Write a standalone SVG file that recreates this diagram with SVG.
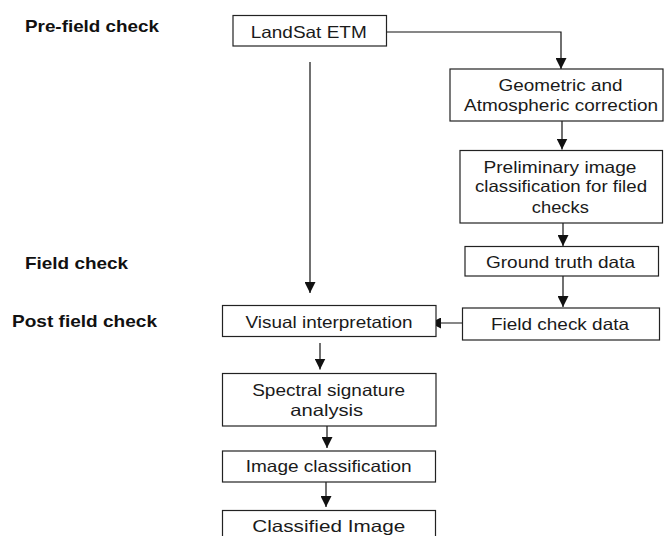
<svg xmlns="http://www.w3.org/2000/svg" width="665" height="536" viewBox="0 0 665 536">
<defs>
<style>
.box{fill:#fff;stroke:#222;stroke-width:1.2}
.t{font-family:"Liberation Sans",Arial,sans-serif;font-size:16.5px;fill:#1a1a1a;text-anchor:middle}
.lb{font-family:"Liberation Sans",Arial,sans-serif;font-size:16.5px;font-weight:bold;fill:#111}
.c{fill:none;stroke:#111;stroke-width:1.2}
</style>
<marker id="ah" markerUnits="userSpaceOnUse" markerWidth="11" markerHeight="11" refX="10" refY="5" orient="auto" viewBox="0 0 10 10">
<path d="M0,0 L10,5 L0,10 z" fill="#111"/>
</marker>
</defs>
<rect width="665" height="536" fill="#fff"/>
<g id="labels">
<text class="lb" x="25" y="32" textLength="134" lengthAdjust="spacingAndGlyphs">Pre-field check</text>
<text class="lb" x="25" y="269" textLength="103" lengthAdjust="spacingAndGlyphs">Field check</text>
<text class="lb" x="12" y="326.7" textLength="145" lengthAdjust="spacingAndGlyphs">Post field check</text>
</g>
<g id="connectors">
<path class="c" d="M386.7,32 H561 V69" marker-end="url(#ah)"/>
<path class="c" d="M310,62 V293" marker-end="url(#ah)"/>
<path class="c" d="M562,121 V149.5" marker-end="url(#ah)"/>
<path class="c" d="M563,223 V246" marker-end="url(#ah)"/>
<path class="c" d="M563,276 V307" marker-end="url(#ah)"/>
<path class="c" d="M462.5,323 H430" marker-end="url(#ah)"/>
<path class="c" d="M320,343 V369.5" marker-end="url(#ah)"/>
<path class="c" d="M327,426 V448" marker-end="url(#ah)"/>
<path class="c" d="M326,482 V507" marker-end="url(#ah)"/>
</g>
<g id="landsat">
<rect class="box" x="233" y="15.5" width="153.5" height="30.5"/>
<text class="t" x="308.7" y="37.7" textLength="116" lengthAdjust="spacingAndGlyphs">LandSat ETM</text>
</g>
<g id="geometric">
<rect class="box" x="450" y="69" width="213" height="52"/>
<text class="t" x="560.5" y="90.7" textLength="124" lengthAdjust="spacingAndGlyphs">Geometric and</text>
<text class="t" x="561" y="111" textLength="194" lengthAdjust="spacingAndGlyphs">Atmospheric correction</text>
</g>
<g id="preliminary">
<rect class="box" x="460" y="150.5" width="202.5" height="72.5"/>
<text class="t" x="560" y="172.7" textLength="153" lengthAdjust="spacingAndGlyphs">Preliminary image</text>
<text class="t" x="561" y="191.7" textLength="172" lengthAdjust="spacingAndGlyphs">classification for filed</text>
<text class="t" x="560.3" y="212.7" textLength="57" lengthAdjust="spacingAndGlyphs">checks</text>
</g>
<g id="ground">
<rect class="box" x="465" y="246.5" width="193.5" height="29.5"/>
<text class="t" x="560.5" y="268.3" textLength="149" lengthAdjust="spacingAndGlyphs">Ground truth data</text>
</g>
<g id="fieldcheck">
<rect class="box" x="462.5" y="308" width="197" height="32"/>
<text class="t" x="560" y="330" textLength="138" lengthAdjust="spacingAndGlyphs">Field check data</text>
</g>
<g id="visual">
<rect class="box" x="222.5" y="305.5" width="213.5" height="31"/>
<text class="t" x="329" y="327.7" textLength="167" lengthAdjust="spacingAndGlyphs">Visual interpretation</text>
</g>
<g id="spectral">
<rect class="box" x="222.5" y="373.5" width="213.5" height="52.5"/>
<text class="t" x="328.7" y="396" textLength="153" lengthAdjust="spacingAndGlyphs">Spectral signature</text>
<text class="t" x="326.7" y="415.7" textLength="73" lengthAdjust="spacingAndGlyphs">analysis</text>
</g>
<g id="imgclass">
<rect class="box" x="222.5" y="451" width="213" height="31"/>
<text class="t" x="328.7" y="471.7" textLength="166" lengthAdjust="spacingAndGlyphs">Image classification</text>
</g>
<g id="classified">
<rect class="box" x="222.5" y="510.5" width="213" height="40"/>
<text class="t" x="328.7" y="532" textLength="153" lengthAdjust="spacingAndGlyphs">Classified Image</text>
</g>
</svg>
